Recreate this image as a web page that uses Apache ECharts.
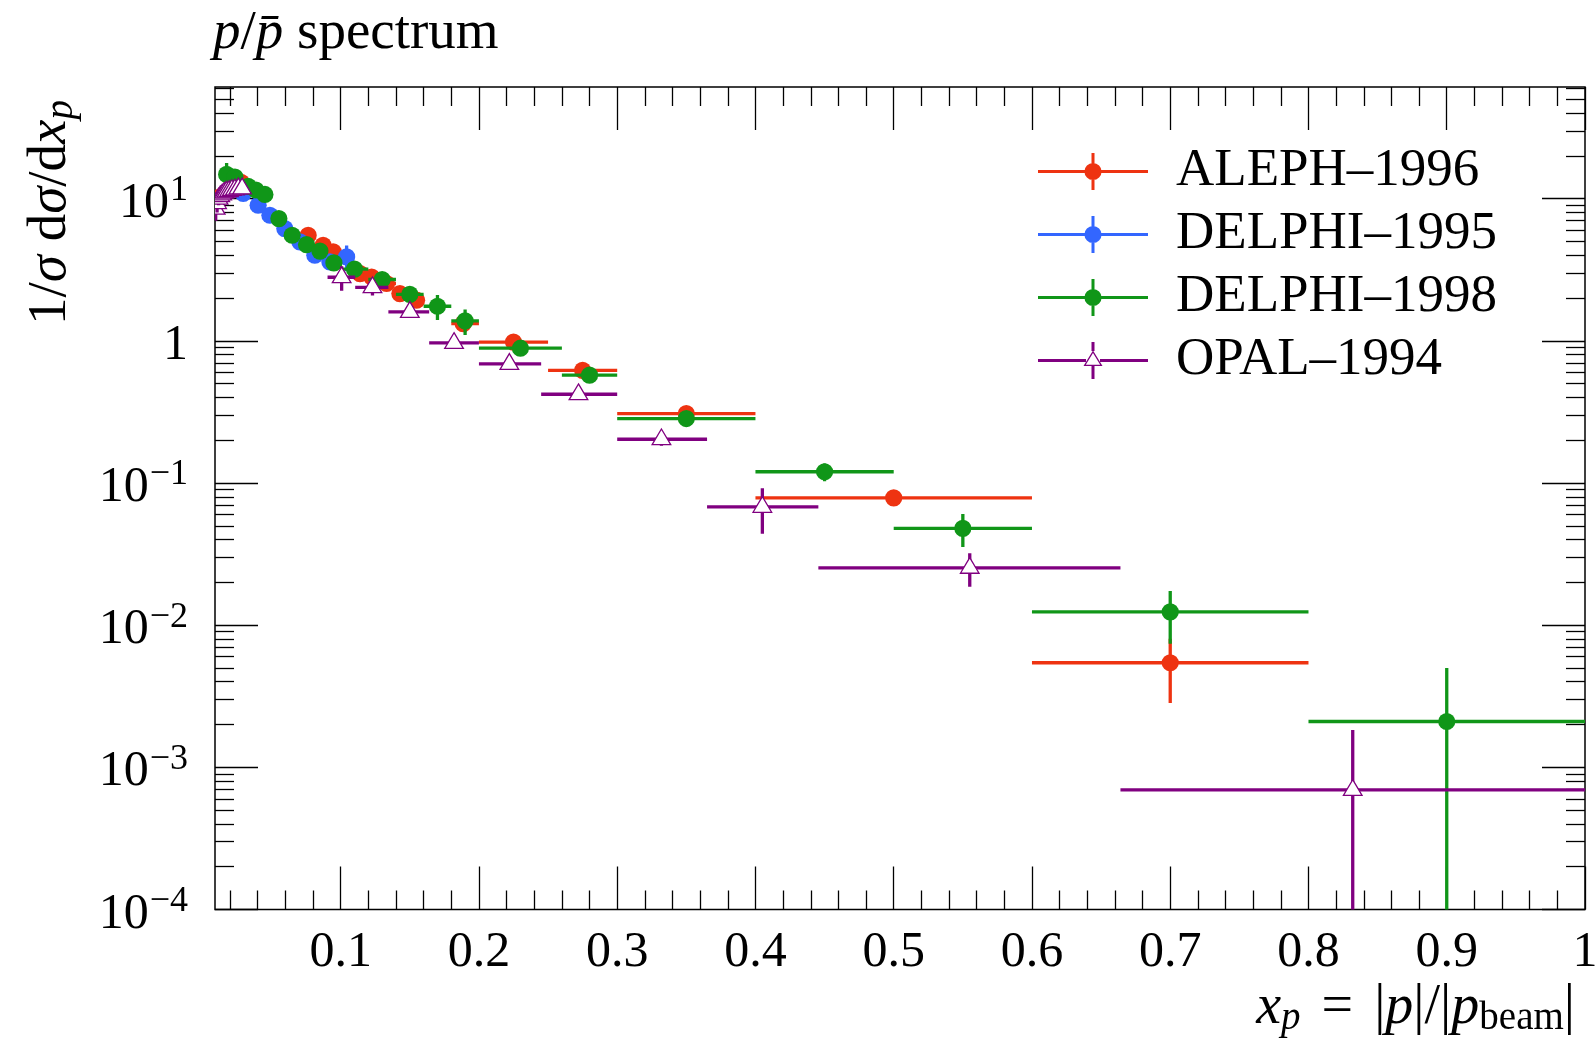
<!DOCTYPE html>
<html>
<head>
<meta charset="utf-8">
<script src="https://cdn.jsdelivr.net/npm/echarts@6/dist/echarts.min.js"></script>
<style>
  html, body { margin: 0; padding: 0; background: #fff; }
  #chart { width: 1596px; height: 1038px; }
</style>
</head>
<body>
<div id="chart"></div>
<script>
// ---- axis ranges and tick values ----
const XMIN = 0.0091, XMAX = 1.0;
const YMIN = 1e-4, YMAX = 61;
const xMajorTicks = [0.1, 0.2, 0.3, 0.4, 0.5, 0.6, 0.7, 0.8, 0.9, 1.0];
const xTickLabels = ['0.1', '0.2', '0.3', '0.4', '0.5', '0.6', '0.7', '0.8', '0.9', '1'];
const yDecades = [1e-4, 1e-3, 1e-2, 1e-1, 1, 10];

// ---- ALEPH-1996 ----
const alephX   = [0.013, 0.028, 0.0765, 0.0873, 0.0946, 0.114, 0.1224, 0.1332, 0.1428, 0.1549, 0.1886, 0.225, 0.275, 0.35, 0.5, 0.7];
const alephLo  = [0.010, 0.025, 0.07, 0.08, 0.09, 0.11, 0.12, 0.13, 0.14, 0.15, 0.18, 0.20, 0.25, 0.30, 0.40, 0.60];
const alephHi  = [0.016, 0.031, 0.08, 0.09, 0.10, 0.12, 0.13, 0.14, 0.15, 0.16, 0.20, 0.25, 0.30, 0.40, 0.60, 0.80];
const alephY   = [10.3, 13.0, 5.53, 4.70, 4.22, 2.97, 2.81, 2.53, 2.15, 1.93, 1.32, 0.98, 0.62, 0.308, 0.0785, 0.00544];
const alephErr = [1.0, 1.0, 0.2, 0.15, 0.15, 0.1, 0.1, 0.08, 0.07, 0.06, 0.05, 0.03, 0.02, 0.01, 0.004, 0.0026];

// ---- DELPHI-1995 ----
const delphi95X   = [0.0295, 0.0403, 0.0488, 0.0596, 0.0705, 0.0813, 0.0922, 0.1043];
const delphi95Lo  = [0.025, 0.035, 0.045, 0.055, 0.065, 0.076, 0.087, 0.098];
const delphi95Hi  = [0.035, 0.045, 0.055, 0.065, 0.076, 0.087, 0.098, 0.11];
const delphi95Y   = [10.9, 8.99, 7.64, 6.16, 4.96, 4.0, 3.59, 3.89];
const delphi95Err = [0.3, 0.3, 0.3, 0.25, 0.2, 0.2, 0.2, 0.8];

// ---- DELPHI-1998 ----
const delphi98X   = [0.0175, 0.0235, 0.0331, 0.0387, 0.0452, 0.0553, 0.0649, 0.0753, 0.085, 0.0951, 0.11, 0.13, 0.15, 0.17, 0.19, 0.23, 0.28, 0.35, 0.45, 0.55, 0.7, 0.9];
const delphi98Lo  = [0.015, 0.020, 0.030, 0.035, 0.040, 0.05, 0.06, 0.07, 0.08, 0.09, 0.10, 0.12, 0.14, 0.16, 0.18, 0.20, 0.26, 0.30, 0.40, 0.50, 0.60, 0.80];
const delphi98Hi  = [0.020, 0.027, 0.035, 0.040, 0.050, 0.06, 0.07, 0.08, 0.09, 0.10, 0.12, 0.14, 0.16, 0.18, 0.20, 0.26, 0.30, 0.40, 0.50, 0.60, 0.80, 1.00];
const delphi98Y   = [14.8, 14.2, 12.2, 11.5, 10.7, 7.24, 5.53, 4.75, 4.28, 3.53, 3.19, 2.70, 2.12, 1.75, 1.38, 0.887, 0.573, 0.284, 0.12, 0.048, 0.0124, 0.0021];
const delphi98Err = [3.0, 1.2, 0.6, 0.5, 0.4, 0.3, 0.25, 0.2, 0.2, 0.2, 0.15, 0.15, 0.25, 0.35, 0.28, 0.04, 0.02, 0.01, 0.017, 0.0125, 0.005, 0.0029];

// ---- OPAL-1994 ----
const opalX   = [0.0096, 0.0106, 0.0117, 0.0129, 0.0143, 0.0158, 0.0174, 0.0192, 0.0213, 0.0235, 0.0260, 0.0287, 0.1007, 0.123, 0.150, 0.182, 0.222, 0.272, 0.332, 0.405, 0.555, 0.832];
const opalLo  = [0.0091, 0.0101, 0.0111, 0.0123, 0.0136, 0.0150, 0.0166, 0.0183, 0.0202, 0.0224, 0.0247, 0.0273, 0.0905, 0.1105, 0.1345, 0.164, 0.200, 0.245, 0.300, 0.365, 0.4455, 0.664];
const opalHi  = [0.0101, 0.0111, 0.0123, 0.0136, 0.0150, 0.0166, 0.0183, 0.0202, 0.0224, 0.0247, 0.0273, 0.0302, 0.1105, 0.1345, 0.164, 0.200, 0.245, 0.300, 0.365, 0.4455, 0.664, 1.0];
const opalY   = [8.5, 9.3, 10.0, 10.4, 10.7, 11.0, 11.2, 11.3, 11.5, 11.6, 11.8, 11.8, 2.8, 2.38, 1.597, 0.966, 0.688, 0.421, 0.203, 0.0679, 0.0253, 0.000693];
const opalErr = [1.5, 1.3, 1.0, 0.8, 0.6, 0.5, 0.4, 0.35, 0.3, 0.3, 0.3, 0.3, 0.55, 0.3, 0.05, 0.03, 0.03, 0.03, 0.02, 0.024, 0.0067, 0.00114];

const SERIF = 'Liberation Serif';
const colors = { aleph: '#EE3311', d95: '#3366FF', d98: '#109618', opal: '#800080' };

function rows(lo, hi, x, y, err) {
  return x.map((v, i) => [lo[i], hi[i], v, y[i], err[i], err[i]]);
}

// minor ticks: every 0.02 on x, 2..9 per decade on y
const xMinorTicks = [];
for (let k = 1; k < 50; k++) { if (k % 5 !== 0) xMinorTicks.push(+(k * 0.02).toFixed(2)); }
const yMinorTicks = [];
yDecades.forEach(d => { for (let k = 2; k <= 9; k++) { const v = k * d; if (v < YMAX) yMinorTicks.push(v); } });

const BAR_W = 3.3, DOT_R = 8.6;
function errorBarItem(color, marker) {
  return function (params, api) {
    const xlo = api.value(0), xhi = api.value(1), xc = api.value(2), yc = api.value(3);
    const eDn = api.value(4), eUp = api.value(5);
    const c = api.coord([xc, yc]);
    const l = api.coord([xlo, yc]);
    const r = api.coord([xhi, yc]);
    const t = api.coord([xc, yc + eUp]);
    const lowVal = yc - eDn;
    const bottomY = lowVal > 0 ? api.coord([xc, lowVal])[1] : params.coordSys.y + params.coordSys.height + 20;
    const children = [
      { type: 'line', shape: { x1: l[0], y1: c[1], x2: r[0], y2: c[1] }, style: { stroke: color, lineWidth: BAR_W } },
      { type: 'line', shape: { x1: c[0], y1: t[1], x2: c[0], y2: bottomY }, style: { stroke: color, lineWidth: BAR_W } }
    ];
    if (marker === 'circle') {
      children.push({ type: 'circle', shape: { cx: c[0], cy: c[1], r: DOT_R }, style: { fill: color } });
    } else {
      children.push({ type: 'polygon', shape: { points: [[c[0], c[1] - 10.3], [c[0] + 9.3, c[1] + 5.4], [c[0] - 9.3, c[1] + 5.4]] },
        style: { fill: '#fff', stroke: color, lineWidth: 1.3 } });
    }
    return { type: 'group', children };
  };
}

function powLabel(v) {
  const e = Math.round(Math.log10(v));
  if (e === 0) return '{m|1}';
  return '{m|10}{s|' + (e < 0 ? '\u2212' + (-e) : String(e)) + '}';
}

const tickStyle = { color: '#000', width: 1.3 };
function xAxisDef(pos, major) {
  return {
    type: 'value', min: XMIN, max: XMAX, position: pos, gridIndex: 0,
    axisLine: { show: false }, splitLine: { show: false },
    axisTick: { show: true, inside: true, length: major ? 43 : 19, customValues: major ? xMajorTicks : xMinorTicks, lineStyle: tickStyle },
    axisLabel: (pos === 'bottom' && major) ? {
      show: true, customValues: xMajorTicks, margin: 18, color: '#000', fontFamily: SERIF, fontSize: 50,
      formatter: v => xTickLabels[xMajorTicks.findIndex(t => Math.abs(t - v) < 1e-9)]
    } : { show: false }
  };
}
function yAxisDef(pos, major) {
  return {
    type: 'log', logBase: 10, min: YMIN, max: YMAX, position: pos, gridIndex: 0,
    axisLine: { show: false }, splitLine: { show: false },
    axisTick: { show: true, inside: true, length: major ? 43 : 19, customValues: major ? yDecades : yMinorTicks, lineStyle: tickStyle },
    axisLabel: (pos === 'left' && major) ? {
      show: true, customValues: yDecades, margin: 27, formatter: powLabel,
      rich: {
        m: { fontFamily: SERIF, fontSize: 50, color: '#000', padding: [10, 0, 0, 0] },
        s: { fontFamily: SERIF, fontSize: 36, color: '#000', padding: [0, 0, 16, 1] }
      }
    } : { show: false }
  };
}

// legend icons: horizontal bar + vertical error bar + marker
const iconCircle = 'path://M0 17H110V20H0Z M53.5 0H56.5V37H53.5Z M46.4 18.5A8.6 8.6 0 1 1 63.6 18.5A8.6 8.6 0 1 1 46.4 18.5Z';
const iconTriangle = 'path://M0 17H48V20H0Z M62 17H110V20H62Z M53.5 0H56.5V9H53.5Z M53.5 23.5H56.5V37H53.5Z ' +
  'M55 8.5L64.5 24L45.5 24Z M55 10.98L47.82 22.7L62.18 22.7Z';

const names = ['ALEPH\u20131996', 'DELPHI\u20131995', 'DELPHI\u20131998', 'OPAL\u20131994'];

const chart = echarts.init(document.getElementById('chart'), null, { renderer: 'canvas' });
chart.setOption({
  backgroundColor: '#fff',
  animation: false,
  grid: { left: 215, right: 11, top: 87, bottom: 128.5, show: true, borderColor: '#000', borderWidth: 1.5, containLabel: false, outerBoundsMode: 'none' },
  xAxis: [xAxisDef('bottom', true), xAxisDef('bottom', false), xAxisDef('top', true), xAxisDef('top', false)],
  yAxis: [yAxisDef('left', true), yAxisDef('left', false), yAxisDef('right', true), yAxisDef('right', false)],
  legend: {
    orient: 'vertical', left: 1033, top: 140, itemWidth: 110, itemHeight: 37, itemGap: 10,
    selectedMode: false,
    textStyle: { fontFamily: SERIF, fontSize: 53, color: '#000', padding: [0, 0, 0, 23] },
    itemStyle: { borderWidth: 0 },
    data: [
      { name: names[0], icon: iconCircle },
      { name: names[1], icon: iconCircle },
      { name: names[2], icon: iconCircle },
      { name: names[3], icon: iconTriangle }
    ]
  },
  series: [
    { name: names[0], type: 'custom', clip: true, itemStyle: { color: colors.aleph }, encode: { x: 2, y: 3 },
      renderItem: errorBarItem(colors.aleph, 'circle'), data: rows(alephLo, alephHi, alephX, alephY, alephErr) },
    { name: names[1], type: 'custom', clip: true, itemStyle: { color: colors.d95 }, encode: { x: 2, y: 3 },
      renderItem: errorBarItem(colors.d95, 'circle'), data: rows(delphi95Lo, delphi95Hi, delphi95X, delphi95Y, delphi95Err) },
    { name: names[2], type: 'custom', clip: true, itemStyle: { color: colors.d98 }, encode: { x: 2, y: 3 },
      renderItem: errorBarItem(colors.d98, 'circle'), data: rows(delphi98Lo, delphi98Hi, delphi98X, delphi98Y, delphi98Err) },
    { name: names[3], type: 'custom', clip: true, itemStyle: { color: colors.opal }, encode: { x: 2, y: 3 },
      renderItem: errorBarItem(colors.opal, 'triangle'), data: rows(opalLo, opalHi, opalX, opalY, opalErr) }
  ],
  graphic: [
    { type: 'text', left: 213, top: 6, silent: true,
      style: { text: '{i|p}{r|/}{i|p\u0304}{r| spectrum}', fill: '#000',
        rich: { i: { fontFamily: SERIF, fontStyle: 'italic', fontSize: 55 }, r: { fontFamily: SERIF, fontSize: 55 } } } },
    { type: 'text', x: 20, y: 325, rotation: Math.PI / 2, silent: true,
      style: { text: '{r|1/}{i|\u03c3}{r| d}{i|\u03c3}{r|/d}{i|x}{b|p}', fill: '#000', textVerticalAlign: 'top',
        rich: { i: { fontFamily: SERIF, fontStyle: 'italic', fontSize: 55 }, r: { fontFamily: SERIF, fontSize: 55 },
          b: { fontFamily: SERIF, fontStyle: 'italic', fontSize: 39, padding: [22, 0, 0, 0] } } } },
    { type: 'text', right: 21, top: 980, silent: true,
      style: { text: '{i|x}{b|p}{q|=}{r||}{i|p}{r||/|}{i|p}{c|beam}{r||}', fill: '#000',
        rich: { i: { fontFamily: SERIF, fontStyle: 'italic', fontSize: 56 }, r: { fontFamily: SERIF, fontSize: 56 },
          q: { fontFamily: SERIF, fontSize: 56, padding: [0, 21, 0, 21] },
          b: { fontFamily: SERIF, fontStyle: 'italic', fontSize: 39, padding: [22, 0, 0, 0] },
          c: { fontFamily: SERIF, fontSize: 39, padding: [22, 0, 0, 0] } } } }
  ]
});
</script>
</body>
</html>
